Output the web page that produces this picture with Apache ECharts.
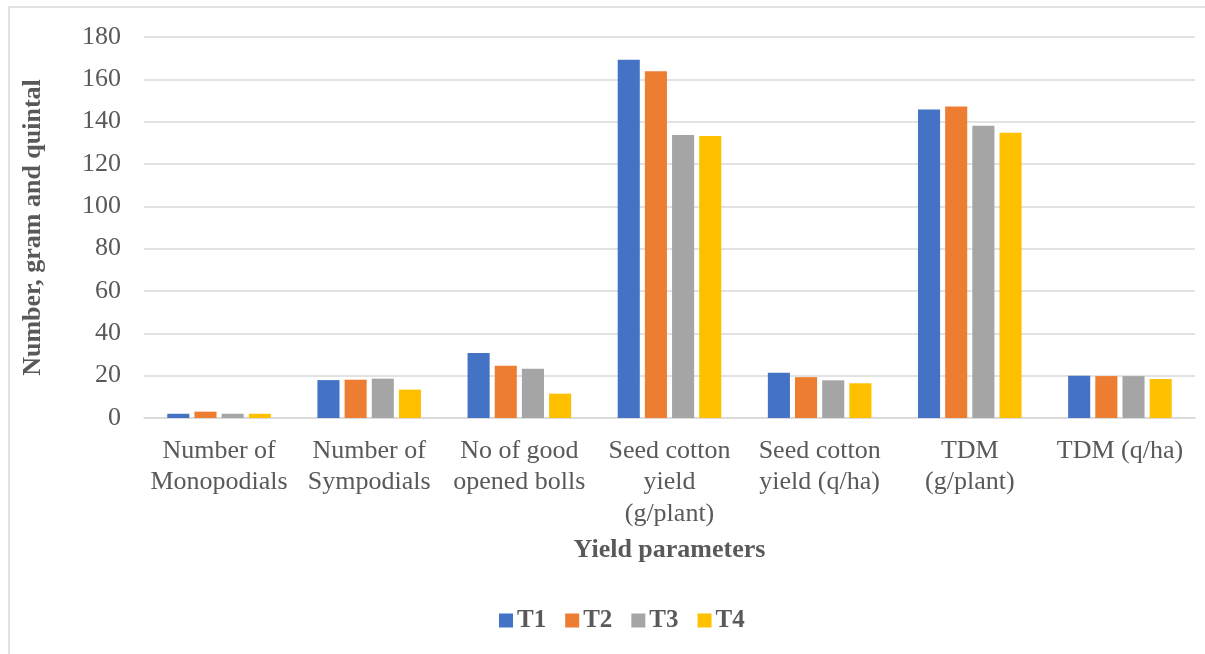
<!DOCTYPE html>
<html>
<head>
<meta charset="utf-8">
<script src="https://cdn.jsdelivr.net/npm/echarts@6/dist/echarts.min.js"></script>
<style>
  html, body { margin: 0; padding: 0; background: #fff; }
  #chart { width: 1205px; height: 654px; }
</style>
</head>
<body>
<div id="chart"></div>
<script>
// Yield parameters measured under four treatments
const categories = [
  'Number of\nMonopodials',
  'Number of\nSympodials',
  'No of good\nopened bolls',
  'Seed cotton\nyield\n(g/plant)',
  'Seed cotton\nyield (q/ha)',
  'TDM\n(g/plant)',
  'TDM (q/ha)'
];
const seriesNames = ['T1', 'T2', 'T3', 'T4'];
const t1 = [2.0, 17.9, 30.7, 169.2, 21.4, 145.8, 20.0];
const t2 = [3.0, 18.1, 24.7, 163.8, 19.3, 147.2, 19.8];
const t3 = [2.0, 18.6, 23.3, 133.7, 17.8, 138.1, 19.8];
const t4 = [2.0, 13.4, 11.5, 133.2, 16.4, 134.8, 18.4];
const yTicks = { min: 0, max: 180, interval: 20 };

const colors = ['#4472C4', '#ED7D31', '#A5A5A5', '#FFC000'];
const textColor = '#595959';
const fontFamily = '"Liberation Serif", "Times New Roman", serif';

const chart = echarts.init(document.getElementById('chart'));
chart.setOption({
  animation: false,
  backgroundColor: '#fff',
  color: colors,
  textStyle: { fontFamily: fontFamily, color: textColor },
  graphic: [{
    type: 'rect',
    shape: { x: 9, y: 7, width: 1220, height: 660 },
    style: { fill: 'none', stroke: '#d9d9d9', lineWidth: 1.5 },
    silent: true
  }],
  grid: { left: 144, right: 10, top: 37, bottom: 236 },
  legend: {
    data: seriesNames,
    bottom: 16,
    left: 494,
    icon: 'rect',
    itemWidth: 14,
    itemHeight: 14,
    itemGap: 19,
    textStyle: { fontFamily: fontFamily, fontSize: 25, fontWeight: 'bold', color: textColor, padding: [0, 0, 0, -1] }
  },
  xAxis: {
    type: 'category',
    data: categories,
    name: 'Yield parameters',
    nameLocation: 'middle',
    nameGap: 119,
    nameTextStyle: { fontFamily: fontFamily, fontSize: 26, fontWeight: 'bold', color: textColor },
    axisLine: { show: true, lineStyle: { color: '#d9d9d9', width: 1.5 } },
    axisTick: { show: false },
    axisLabel: {
      interval: 0,
      margin: 17,
      fontFamily: fontFamily,
      fontSize: 26,
      lineHeight: 31.5,
      color: textColor
    }
  },
  yAxis: {
    type: 'value',
    min: yTicks.min,
    max: yTicks.max,
    interval: yTicks.interval,
    name: 'Number, gram and quintal',
    nameLocation: 'middle',
    nameGap: 98,
    nameTextStyle: { fontFamily: fontFamily, fontSize: 26, fontWeight: 'bold', color: textColor },
    axisLine: { show: false },
    axisTick: { show: false },
    axisLabel: { margin: 23, fontFamily: fontFamily, fontSize: 26, color: textColor },
    splitLine: { lineStyle: { color: '#d9d9d9', width: 1.5 } }
  },
  series: [t1, t2, t3, t4].map((values, i) => ({
    name: seriesNames[i],
    type: 'bar',
    data: values,
    barGap: '23%',
    barCategoryGap: '31%'
  }))
});
</script>
</body>
</html>
